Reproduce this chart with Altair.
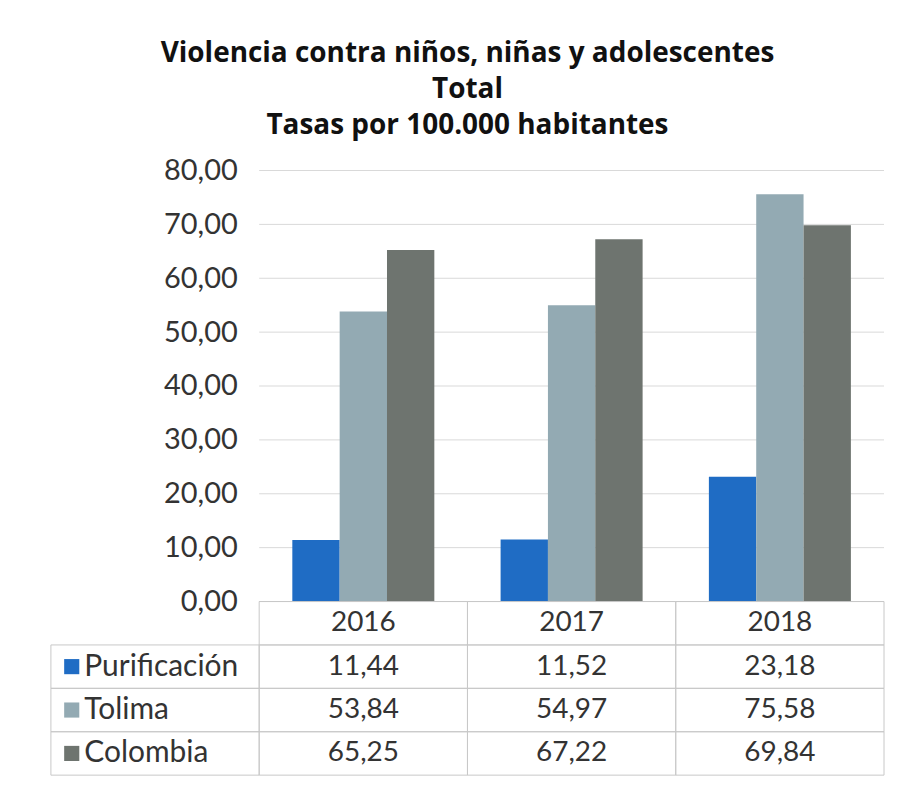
import altair as alt
import pandas as pd

# ---- data ----
years = ["2016", "2017", "2018"]
series = ["Purificación", "Tolima", "Colombia"]
purificacion = [11.44, 11.52, 23.18]
tolima = [53.84, 54.97, 75.58]
colombia = [65.25, 67.22, 69.84]
colors = ["#1F6CC4", "#93AAB3", "#6E746F"]
y_ticks = [0, 10, 20, 30, 40, 50, 60, 70, 80]
title_lines = [
    "Violencia contra niños, niñas y adolescentes",
    "Total",
    "Tasas por 100.000 habitantes",
]

label_col = "label"
columns = [label_col] + years
header_row = "header"
rows = [header_row] + series

values = {"Purificación": purificacion, "Tolima": tolima, "Colombia": colombia}
df = pd.DataFrame(
    [{"year": y, "serie": s, "value": values[s][i]} for s in series for i, y in enumerate(years)]
)
df["label"] = df["value"].map(lambda v: f"{v:.2f}".replace(".", ","))
df_grid = pd.DataFrame({"tick": y_ticks})
df_cells = pd.DataFrame(
    [{"col": c, "row": r} for c in columns for r in rows if not (c == label_col and r == header_row)]
)
df_head = pd.DataFrame({"col": years, "row": [header_row] * len(years)})
df_names = pd.DataFrame({"col": [label_col] * len(series), "row": series, "serie": series})

W = 835
H_PLOT = 432
H_TABLE = 174
FONT = "Lato"
TEXT_COLOR = "#333333"

x_scale = alt.Scale(domain=columns, paddingInner=0, paddingOuter=0)
color_scale = alt.Scale(domain=series, range=colors)
y_scale = alt.Scale(domain=[0, 80], nice=False)
y_axis = alt.Axis(
    values=y_ticks, grid=False, domain=False, ticks=False, labelPadding=22,
    offset=-W / 4, labelExpr="replace(format(datum.value, '.2f'), '.', ',')",
    labelFontSize=29, labelFont=FONT, labelColor=TEXT_COLOR, title=None,
)

grid = alt.Chart(df_grid).mark_rule(color="#d9d9d9", strokeWidth=1).encode(
    y=alt.Y("tick:Q", scale=y_scale, axis=y_axis),
    x=alt.XDatum("2016", bandPosition=0, scale=x_scale, axis=None),
    x2=alt.value(W),
)

bars = alt.Chart(df).mark_bar().encode(
    x=alt.X("year:N", scale=x_scale, axis=None),
    xOffset=alt.XOffset("serie:N", scale=alt.Scale(domain=series, paddingOuter=0.7, paddingInner=0)),
    y=alt.Y("value:Q", scale=y_scale, axis=y_axis),
    color=alt.Color("serie:N", scale=color_scale, legend=None),
)

top = alt.layer(grid, bars).properties(width=W, height=H_PLOT)

row_y = alt.Y("row:N", scale=alt.Scale(domain=rows, paddingInner=0, paddingOuter=0), axis=None)
col_x = alt.X("col:N", scale=x_scale, axis=None)

cells = alt.Chart(df_cells).mark_rect(fillOpacity=0, stroke="#c8c8c8", strokeWidth=1).encode(
    x=col_x, y=row_y
)
head = alt.Chart(df_head).mark_text(fontSize=28, font=FONT, color=TEXT_COLOR).encode(
    x=col_x, y=row_y, text="col:N"
)
vals = alt.Chart(df).mark_text(fontSize=28, font=FONT, color=TEXT_COLOR).encode(
    x=alt.X("year:N", scale=x_scale, axis=None),
    y=alt.Y("serie:N", scale=alt.Scale(domain=rows, paddingInner=0, paddingOuter=0), axis=None),
    text="label:N",
)
squares = alt.Chart(df_names).mark_square(size=230, opacity=1).encode(
    x=alt.X("col:N", scale=x_scale, axis=None, bandPosition=0.1),
    y=row_y,
    color=alt.Color("serie:N", scale=color_scale, legend=None),
)
names = alt.Chart(df_names).mark_text(fontSize=30, font=FONT, color=TEXT_COLOR, align="left").encode(
    x=alt.X("col:N", scale=x_scale, axis=None, bandPosition=0.16),
    y=row_y,
    text="serie:N",
)
table = alt.layer(cells, head, vals, squares, names).properties(width=W, height=H_TABLE)

chart = alt.vconcat(top, table, spacing=0, bounds="flush").properties(
    title=alt.Title(
        title_lines, font="Open Sans", fontSize=28, fontWeight="bold", color="#111111",
        lineHeight=36, anchor="middle", offset=17,
    ),
    padding={"left": 42, "top": 31, "right": 12, "bottom": 2},
    background="white",
).configure_view(stroke=None)

chart.save("out.html", embed_options={"renderer": "svg", "actions": False})
